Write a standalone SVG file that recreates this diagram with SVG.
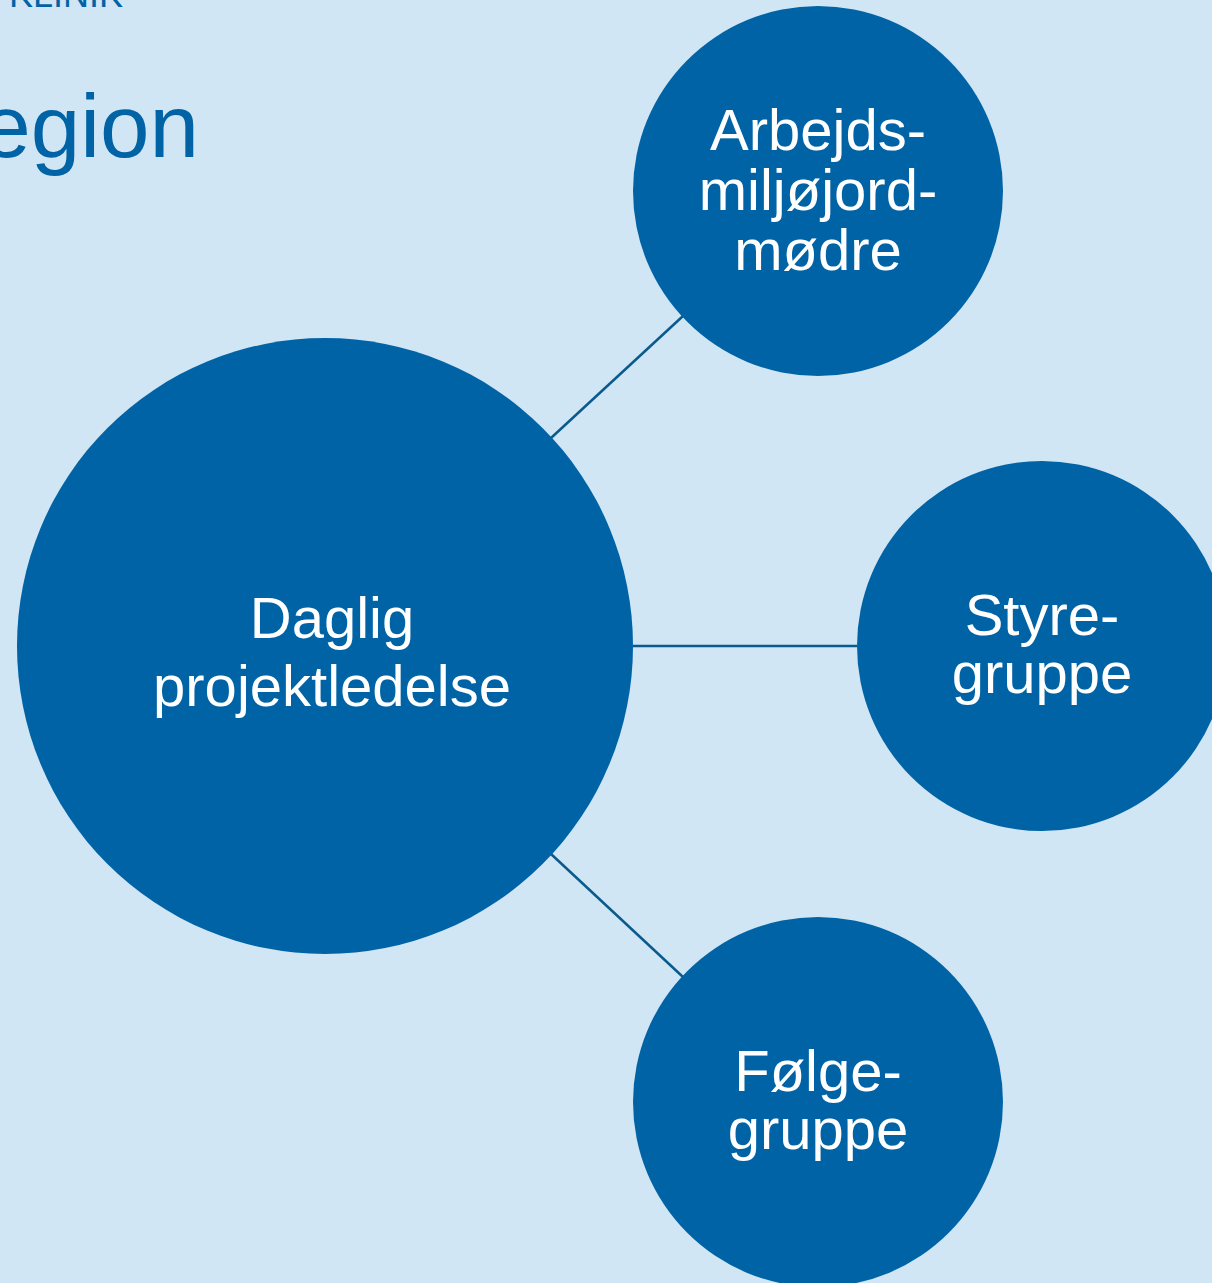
<svg xmlns="http://www.w3.org/2000/svg" width="1212" height="1283" viewBox="0 0 1212 1283">
<style>
.bg{fill:#D0E6F4}
.node circle{fill:#0063A6}
.node text{fill:#FFFFFF;font-family:"Liberation Sans",Arial,sans-serif;font-size:58px;text-anchor:middle}
.hdr{fill:#0063A6;font-family:"Liberation Sans",Arial,sans-serif}
#connectors line{stroke:#0A5A8E;stroke-width:2.5}
</style>
<rect class="bg" x="0" y="0" width="1212" height="1283"/>
<text class="hdr" x="123" y="7" font-size="36" text-anchor="end">KLINIK</text>
<text class="hdr" x="199" y="157" font-size="89" text-anchor="end">egion</text>
<g id="connectors">
<line x1="551" y1="438" x2="683" y2="316"/>
<line x1="633" y1="646" x2="857" y2="646"/>
<line x1="551" y1="854" x2="683" y2="977"/>
</g>
<g id="node-daglig" class="node">
<circle cx="325" cy="646" r="308"/>
<text x="332" y="638">Daglig</text>
<text x="332" y="706">projektledelse</text>
</g>
<g id="node-arbejds" class="node">
<circle cx="818" cy="191" r="185"/>
<text x="818" y="150">Arbejds-</text>
<text x="818" y="210">miljøjord-</text>
<text x="818" y="270">mødre</text>
</g>
<g id="node-styre" class="node">
<circle cx="1042" cy="646" r="185"/>
<text x="1042" y="635">Styre-</text>
<text x="1042" y="693">gruppe</text>
</g>
<g id="node-folge" class="node">
<circle cx="818" cy="1102" r="185"/>
<text x="818" y="1091">Følge-</text>
<text x="818" y="1149">gruppe</text>
</g>
</svg>
